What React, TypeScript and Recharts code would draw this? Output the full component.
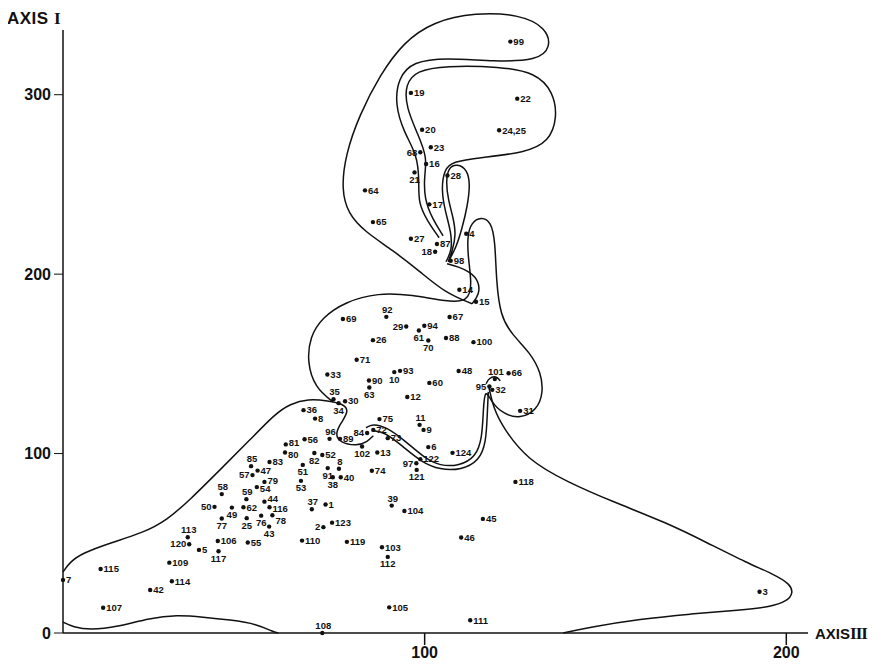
import { ScatterChart, Scatter, XAxis, YAxis, ReferenceLine } from 'recharts';

type Pt = { n: string; x: number; y: number };
type XY = { x: number; y: number };

// labelled cases (AXIS III, AXIS I)
const upperPoints: Pt[] = [
	{ n: '99', x: 123.7, y: 329.6 },
	{ n: '19', x: 96.2, y: 301 },
	{ n: '22', x: 125.6, y: 297.8 },
	{ n: '20', x: 99.3, y: 280.5 },
	{ n: '24,25', x: 120.6, y: 280.2 },
	{ n: '23', x: 101.7, y: 270.7 },
	{ n: '68', x: 98.8, y: 267.9 },
	{ n: '16', x: 100.4, y: 261.4 },
	{ n: '21', x: 97.2, y: 256.7 },
	{ n: '28', x: 106.3, y: 255 },
	{ n: '64', x: 83.5, y: 246.7 },
	{ n: '17', x: 101.3, y: 238.9 },
	{ n: '65', x: 85.7, y: 229 },
	{ n: '4', x: 111.5, y: 222.5 },
	{ n: '27', x: 96.2, y: 219.7 },
	{ n: '87', x: 103.4, y: 216.8 },
	{ n: '18', x: 102.9, y: 212.5 },
	{ n: '98', x: 107.2, y: 207.5 },
	{ n: '14', x: 109.6, y: 191.3 },
	{ n: '15', x: 114.2, y: 184.6 },
];

const middlePoints: Pt[] = [
	{ n: '92', x: 89.4, y: 176.2 },
	{ n: '69', x: 77.4, y: 175 },
	{ n: '67', x: 106.9, y: 176.1 },
	{ n: '29', x: 94.9, y: 170.8 },
	{ n: '94', x: 99.9, y: 171.2 },
	{ n: '61', x: 98.4, y: 168.6 },
	{ n: '26', x: 85.7, y: 163.2 },
	{ n: '88', x: 105.9, y: 164.4 },
	{ n: '100', x: 113.5, y: 162.1 },
	{ n: '70', x: 101, y: 163 },
	{ n: '71', x: 81.2, y: 152.3 },
	{ n: '33', x: 73.1, y: 144.1 },
	{ n: '93', x: 93.2, y: 146.1 },
	{ n: '10', x: 91.6, y: 145.4 },
	{ n: '90', x: 84.6, y: 140.7 },
	{ n: '63', x: 84.7, y: 136.8 },
	{ n: '48', x: 109.4, y: 146 },
	{ n: '60', x: 101.3, y: 139.4 },
	{ n: '101', x: 119.4, y: 141.5 },
	{ n: '66', x: 123.2, y: 144.8 },
	{ n: '95', x: 117.9, y: 137.4 },
	{ n: '32', x: 118.7, y: 135.5 },
	{ n: '12', x: 95.2, y: 131.5 },
	{ n: '35', x: 74.8, y: 130.3 },
	{ n: '30', x: 78, y: 129.2 },
	{ n: '34', x: 76.2, y: 128.1 },
	{ n: '31', x: 126.4, y: 123.8 },
	{ n: '36', x: 66.5, y: 124.2 },
	{ n: '8', x: 69.7, y: 119.5 },
	{ n: '75', x: 87.5, y: 119.2 },
	{ n: '11', x: 98.6, y: 116 },
	{ n: '9', x: 99.7, y: 113.2 },
	{ n: '84', x: 84.1, y: 111.5 },
	{ n: '72', x: 85.8, y: 113.2 },
	{ n: '96', x: 73.7, y: 108.2 },
	{ n: '89', x: 76.6, y: 108.2 },
	{ n: '73', x: 89.8, y: 108.6 },
	{ n: '56', x: 66.8, y: 108 },
	{ n: '81', x: 61.6, y: 105.1 },
	{ n: '80', x: 61.4, y: 100.6 },
	{ n: '102', x: 82.7, y: 103.9 },
	{ n: '13', x: 86.9, y: 100.6 },
	{ n: '6', x: 101, y: 103.6 },
	{ n: '124', x: 107.7, y: 100.4 },
	{ n: '82', x: 69.5, y: 100.3 },
];

const lowerPoints: Pt[] = [
	{ n: '122', x: 98.8, y: 96.9 },
	{ n: '52', x: 71.7, y: 99.2 },
	{ n: '97', x: 97.7, y: 94.6 },
	{ n: '121', x: 97.8, y: 90.9 },
	{ n: '74', x: 85.4, y: 90.4 },
	{ n: '40', x: 76.8, y: 86.8 },
	{ n: '8', x: 76.3, y: 91.5 },
	{ n: '91', x: 73.2, y: 91.9 },
	{ n: '38', x: 74.6, y: 86.8 },
	{ n: '51', x: 66.3, y: 93.7 },
	{ n: '53', x: 65.8, y: 84.8 },
	{ n: '37', x: 68.8, y: 69 },
	{ n: '1', x: 72.6, y: 71.6 },
	{ n: '39', x: 90.9, y: 71 },
	{ n: '104', x: 94.4, y: 68 },
	{ n: '45', x: 116.1, y: 63.6 },
	{ n: '2', x: 72, y: 59 },
	{ n: '123', x: 74.4, y: 61.5 },
	{ n: '46', x: 110.1, y: 53.2 },
	{ n: '110', x: 66.1, y: 51.5 },
	{ n: '119', x: 78.5, y: 50.8 },
	{ n: '103', x: 88.2, y: 47.8 },
	{ n: '112', x: 89.8, y: 42.4 },
	{ n: '85', x: 52, y: 93 },
	{ n: '47', x: 53.8, y: 90.5 },
	{ n: '83', x: 57.1, y: 95.3 },
	{ n: '57', x: 52.4, y: 88 },
	{ n: '79', x: 55.7, y: 84.2 },
	{ n: '58', x: 43.9, y: 77.4 },
	{ n: '59', x: 50.7, y: 74.6 },
	{ n: '54', x: 53.6, y: 81.3 },
	{ n: '44', x: 55.7, y: 73.2 },
	{ n: '50', x: 41.9, y: 70.3 },
	{ n: '49', x: 46.7, y: 69.9 },
	{ n: '62', x: 49.9, y: 70.1 },
	{ n: '116', x: 57.1, y: 70.1 },
	{ n: '77', x: 43.9, y: 63.8 },
	{ n: '25', x: 50.8, y: 64 },
	{ n: '76', x: 54.8, y: 65.4 },
	{ n: '78', x: 57.9, y: 65.6 },
	{ n: '43', x: 57, y: 59.3 },
	{ n: '113', x: 34.5, y: 53.4 },
	{ n: '120', x: 34.9, y: 49.5 },
	{ n: '5', x: 37.6, y: 46.3 },
	{ n: '106', x: 42.8, y: 51.3 },
	{ n: '55', x: 51.1, y: 50.4 },
	{ n: '117', x: 43, y: 45.6 },
	{ n: '7', x: 0, y: 29.6 },
	{ n: '115', x: 10.4, y: 35.7 },
	{ n: '107', x: 11.1, y: 14.1 },
	{ n: '42', x: 24.1, y: 24 },
	{ n: '114', x: 30.1, y: 28.8 },
	{ n: '109', x: 29.4, y: 39.2 },
	{ n: '118', x: 125.1, y: 84.2 },
	{ n: '3', x: 192.6, y: 23 },
	{ n: '111', x: 112.6, y: 7.1 },
	{ n: '105', x: 90.2, y: 14.3 },
	{ n: '108', x: 71.7, y: 0 },
];

// hand drawn group outlines, traced in axis units
const outerTop: XY[] = [
	{ x: 113.1, y: 183.5 }, { x: 105.7, y: 189.6 }, { x: 98.8, y: 201.3 }, { x: 91.0, y: 213.6 },
	{ x: 83.5, y: 223.6 }, { x: 78.8, y: 233.7 }, { x: 77.0, y: 247.1 }, { x: 78.1, y: 266.6 },
	{ x: 82.0, y: 288.9 }, { x: 87.7, y: 311.2 }, { x: 94.1, y: 329.1 }, { x: 102.4, y: 340.8 },
	{ x: 114.0, y: 345.8 }, { x: 126.4, y: 344.7 }, { x: 133.6, y: 337.4 }, { x: 135.0, y: 326.3 },
	{ x: 131.1, y: 319.0 }, { x: 119.5, y: 318.5 }, { x: 105.7, y: 320.7 }, { x: 96.8, y: 318.5 },
	{ x: 92.7, y: 309.5 }, { x: 91.8, y: 294.5 }, { x: 94.3, y: 278.9 }, { x: 97.9, y: 266.6 },
	{ x: 98.5, y: 252.6 }, { x: 98.2, y: 239.8 }, { x: 100.7, y: 229.8 }, { x: 104.0, y: 220.3 },
];

const innerTop: XY[] = [
	{ x: 105.1, y: 221.4 }, { x: 102.1, y: 230.9 }, { x: 99.9, y: 242.1 }, { x: 99.9, y: 254.9 },
	{ x: 100.7, y: 264.9 }, { x: 98.2, y: 277.7 }, { x: 94.9, y: 292.8 }, { x: 94.6, y: 305.6 },
	{ x: 97.7, y: 313.4 }, { x: 105.7, y: 316.2 }, { x: 120.9, y: 315.7 }, { x: 130.6, y: 312.3 },
	{ x: 135.6, y: 301.7 }, { x: 136.7, y: 287.2 }, { x: 134.4, y: 273.8 }, { x: 127.8, y: 267.7 },
	{ x: 115.4, y: 264.9 }, { x: 107.6, y: 262.7 }, { x: 105.4, y: 258.2 }, { x: 104.6, y: 247.1 },
	{ x: 105.7, y: 234.8 }, { x: 107.3, y: 223.6 }, { x: 107.6, y: 213.6 }, { x: 105.9, y: 206.9 },
];

const lobe28: XY[] = [
	{ x: 106.5, y: 206.9 }, { x: 108.7, y: 214.7 }, { x: 110.4, y: 225.9 }, { x: 111.8, y: 237.6 },
	{ x: 112.6, y: 249.9 }, { x: 111.8, y: 258.2 }, { x: 109.0, y: 261.6 }, { x: 106.5, y: 259.3 },
	{ x: 105.9, y: 251.5 }, { x: 106.5, y: 241.5 }, { x: 107.9, y: 231.5 }, { x: 108.7, y: 222.0 },
	{ x: 107.6, y: 212.5 }, { x: 106.5, y: 206.9 },
];

const loop98: XY[] = [
	{ x: 106.2, y: 205.8 }, { x: 109.3, y: 204.1 }, { x: 112.6, y: 201.3 },
	{ x: 115.1, y: 195.8 }, { x: 115.1, y: 188.5 }, { x: 113.1, y: 183.5 },
];

const middleOutline: XY[] = [
	{ x: 74.7, y: 128.8 }, { x: 69.7, y: 136.6 }, { x: 67.5, y: 151.0 }, { x: 68.3, y: 165.1 },
	{ x: 71.6, y: 175.7 }, { x: 78.0, y: 184.6 }, { x: 87.1, y: 189.6 }, { x: 96.5, y: 188.5 },
	{ x: 106.2, y: 184.6 }, { x: 112.0, y: 184.6 }, { x: 113.1, y: 194.1 }, { x: 112.0, y: 209.1 },
	{ x: 111.8, y: 221.4 }, { x: 112.9, y: 228.7 }, { x: 115.6, y: 232.0 }, { x: 118.4, y: 229.2 },
	{ x: 119.5, y: 218.1 }, { x: 119.8, y: 196.9 }, { x: 120.9, y: 176.8 }, { x: 124.2, y: 166.2 },
	{ x: 129.2, y: 156.2 }, { x: 132.2, y: 145.0 }, { x: 132.8, y: 133.9 }, { x: 131.1, y: 124.4 },
	{ x: 126.4, y: 119.4 }, { x: 121.7, y: 122.1 }, { x: 118.4, y: 128.8 }, { x: 116.7, y: 136.6 },
	{ x: 116.2, y: 124.4 }, { x: 115.9, y: 108.8 }, { x: 114.2, y: 98.2 }, { x: 109.5, y: 93.1 },
	{ x: 104.3, y: 93.1 }, { x: 99.9, y: 97.6 }, { x: 94.6, y: 107.1 }, { x: 89.4, y: 114.9 },
	{ x: 85.5, y: 116.6 }, { x: 83.8, y: 114.3 },
];

const middleInner: XY[] = [
	{ x: 117.6, y: 134.4 }, { x: 117.3, y: 121.6 }, { x: 117.0, y: 106.5 }, { x: 115.1, y: 95.9 },
	{ x: 110.1, y: 90.9 }, { x: 104.3, y: 90.9 }, { x: 99.0, y: 95.4 }, { x: 93.8, y: 104.3 },
	{ x: 88.8, y: 112.1 }, { x: 85.8, y: 112.7 },
];

const smallArc: XY[] = [
	{ x: 117.0, y: 138.9 }, { x: 117.8, y: 142.2 }, { x: 119.8, y: 143.3 }, { x: 120.9, y: 140.5 },
];

const lowerLeft: XY[] = [
	{ x: 85.8, y: 109.9 }, { x: 84.1, y: 106.5 }, { x: 81.3, y: 104.3 }, { x: 76.6, y: 106.0 },
	{ x: 75.2, y: 111.0 }, { x: 76.9, y: 117.1 }, { x: 79.1, y: 123.8 }, { x: 77.5, y: 127.7 },
	{ x: 73.3, y: 129.4 }, { x: 67.8, y: 130.5 }, { x: 62.8, y: 127.7 }, { x: 58.6, y: 122.1 },
	{ x: 51.7, y: 107.6 }, { x: 43.4, y: 90.9 }, { x: 35.1, y: 74.2 }, { x: 28.8, y: 63.0 },
	{ x: 22.1, y: 55.8 }, { x: 13.0, y: 50.2 }, { x: 5.5, y: 44.6 }, { x: 1.9, y: 39.6 }, { x: 0, y: 34.0 },
];

const lowerRight: XY[] = [
	{ x: 117.8, y: 136.6 }, { x: 119.0, y: 125.5 }, { x: 121.7, y: 114.3 }, { x: 128.4, y: 96.5 },
	{ x: 139.4, y: 84.2 }, { x: 152.1, y: 73.1 }, { x: 167.1, y: 61.3 }, { x: 178.2, y: 50.2 },
	{ x: 189.2, y: 39.0 }, { x: 196.4, y: 32.9 }, { x: 201.1, y: 27.3 }, { x: 201.9, y: 22.3 },
	{ x: 200.3, y: 17.8 }, { x: 195.6, y: 14.5 }, { x: 187.3, y: 12.8 }, { x: 173.4, y: 10.6 },
	{ x: 159.6, y: 7.8 }, { x: 145.8, y: 3.3 }, { x: 138.3, y: 0 },
];

const bottomLeft: XY[] = [
	{ x: 0, y: 6.1 }, { x: 2.8, y: 3.3 }, { x: 7.5, y: 1.7 }, { x: 14.9, y: 3.3 }, { x: 24.1, y: 8.4 },
	{ x: 31.5, y: 10.0 }, { x: 38.7, y: 8.9 }, { x: 46.2, y: 7.3 }, { x: 53.7, y: 5.0 },
	{ x: 58.1, y: 0.6 }, { x: 59.5, y: 0 },
];

const outlines = [
	outerTop, innerTop, lobe28, loop98, middleOutline, middleInner,
	smallArc, lowerLeft, lowerRight, bottomLeft,
];

const xTicks = [100, 200];
const yTicks = [0, 100, 200, 300];

// where the case number sits relative to its dot (default: right)
const labelLeft = ['68', '18', '29', '95', '84', '97', '2', '57', '50', '120'];
const labelAbove = ['92', '35', '101', '11', '96', '37', '39', '85', '58', '59', '113', '108', '8@76.3'];
const labelBelow = ['21', '61', '70', '10', '63', '34', '102', '121', '82', '51', '53', '91', '38', '112', '49', '77', '25', '76', '43', '117'];
// small vertical nudges (px) in the crowded left cluster
const labelNudge: Record<string, number> = { '81': -2, '80': 2.5, '44': -3.3, '116': 1.5, '78': 5, '54': 2, '79': -1.5 };

const FONT = '"Liberation Sans", Arial, sans-serif';

const sideOf = (p: Pt) => {
	const key = `${p.n}@${p.x}`;
	if (labelAbove.includes(key)) return 't';
	if (labelLeft.includes(p.n)) return 'l';
	if (labelAbove.includes(p.n)) return 't';
	if (labelBelow.includes(p.n)) return 'b';
	return 'r';
};

const CaseDot = (props: any) => {
	const { cx, cy, payload } = props;
	if (cx == null || cy == null) return <g />;
	const side = sideOf(payload);
	let tx = cx + 3;
	let ty = cy + 3.3 + (labelNudge[payload.n] ?? 0);
	let anchor: 'start' | 'middle' | 'end' = 'start';
	if (side === 'l') {
		tx = cx - 3;
		anchor = 'end';
	} else if (side === 't') {
		tx = cx + 1;
		ty = cy - 4;
		anchor = 'middle';
	} else if (side === 'b') {
		tx = cx;
		ty = cy + 10.5;
		anchor = 'middle';
	}
	return (
		<g>
			<circle cx={cx} cy={cy} r={2.2} fill='#111' />
			<text x={tx} y={ty} textAnchor={anchor} fontFamily={FONT} fontWeight='bold' fontSize={9.5} fill='#111'>
				{payload.n}
			</text>
		</g>
	);
};

const Empty = () => <g />;

const App = () => {
	return (
		<div style={{ position: 'relative', margin: -8, width: 883, height: 666, background: '#fff' }}>
			<ScatterChart
				width={883}
				height={666}
				margin={{ top: 5, right: 75, left: 0, bottom: 0 }}
			>
				<XAxis
					type='number'
					dataKey='x'
					domain={[0, 206]}
					ticks={xTicks}
					tickSize={12}
					height={33}
					stroke='#111'
					strokeWidth={1.5}
					tick={{ fill: '#111', fontSize: 16, fontWeight: 'bold', fontFamily: FONT }}
				/>
				<YAxis
					type='number'
					dataKey='y'
					domain={[0, 350]}
					ticks={yTicks}
					width={63}
					tickSize={9}
					tickMargin={3}
					axisLine={false}
					stroke='#111'
					tick={{ fill: '#111', fontSize: 16, fontWeight: 'bold', fontFamily: FONT }}
				/>
				<ReferenceLine
					segment={[{ x: 0, y: 0 }, { x: 0, y: 336 }]}
					stroke='#111'
					strokeWidth={1.5}
				/>
				{outlines.map((o, i) => (
					<Scatter
						key={i}
						data={o}
						fill='#111'
						line={{ stroke: '#111', strokeWidth: 1.5 }}
						lineJointType='basis'
						shape={Empty}
						isAnimationActive={false}
					/>
				))}
				<Scatter data={upperPoints} shape={CaseDot} isAnimationActive={false} />
				<Scatter data={middlePoints} shape={CaseDot} isAnimationActive={false} />
				<Scatter data={lowerPoints} shape={CaseDot} isAnimationActive={false} />
			</ScatterChart>
			<div style={{ position: 'absolute', left: 7, top: 9, fontFamily: FONT, fontWeight: 'bold', fontSize: 17, color: '#111', letterSpacing: 0.5 }}>
				AXIS <span style={{ fontFamily: '"Liberation Serif", serif' }}>I</span>
			</div>
			<div style={{ position: 'absolute', left: 815, top: 624, fontFamily: FONT, fontWeight: 'bold', fontSize: 15, color: '#111' }}>
				AXIS<span style={{ fontFamily: '"Liberation Serif", serif', fontSize: 17, letterSpacing: -1 }}>III</span>
			</div>
		</div>
	);
};

export default App;
